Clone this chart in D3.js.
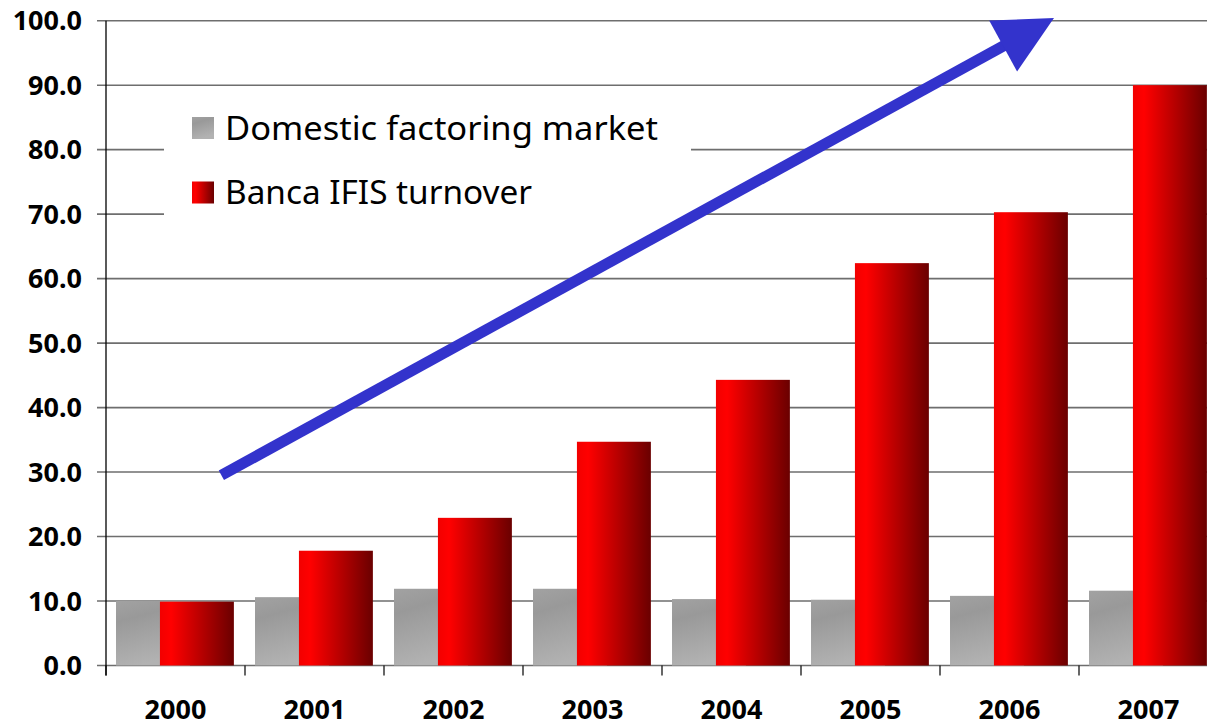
<!DOCTYPE html>
<html><head><meta charset="utf-8">
<script src="https://cdn.jsdelivr.net/npm/d3@7"></script>
<style>
html,body{margin:0;padding:0;background:#fff;overflow:hidden;}
svg{display:block;}
</style></head>
<body>
<svg id="chart" width="1207" height="723"></svg>
<script>
const years = ["2000","2001","2002","2003","2004","2005","2006","2007"];
const domestic = [10.0, 10.6, 11.9, 11.9, 10.3, 10.2, 10.8, 11.6];
const ifis = [9.9, 17.8, 22.9, 34.7, 44.3, 62.4, 70.3, 90.0];
const yTicks = [0,10,20,30,40,50,60,70,80,90,100];
const seriesNames = ["Domestic factoring market", "Banca IFIS turnover"];
const arrowFrom = [0.83, 29.5]; // in (category index, value) space
const arrowTo = [6.82, 100.4];

const svg = d3.select("#chart");
const font = "'Noto Sans', 'DejaVu Sans', sans-serif";

const x = d3.scaleBand().domain(years).range([106, 1218]).paddingInner(0).paddingOuter(0);
const y = d3.scaleLinear().domain([0,100]).range([665.5, 20.7]);
const bw = x.bandwidth();
const barW = bw*0.532;
const offGrey = bw*0.072, offRed = bw*0.388;

const defs = svg.append("defs");
const gGrey = defs.append("linearGradient").attr("id","gGrey").attr("x1","0").attr("y1","0").attr("x2","0.3").attr("y2","1");
gGrey.append("stop").attr("offset","0").attr("stop-color","#a2a2a2");
gGrey.append("stop").attr("offset","0.3").attr("stop-color","#999999");
gGrey.append("stop").attr("offset","1").attr("stop-color","#b2b2b2");
const gRed = defs.append("linearGradient").attr("id","gRed").attr("x1","0").attr("y1","0").attr("x2","1").attr("y2","0");
gRed.append("stop").attr("offset","0").attr("stop-color","#f20000");
gRed.append("stop").attr("offset","0.15").attr("stop-color","#ff0000");
gRed.append("stop").attr("offset","1").attr("stop-color","#6a0000");

// gridlines
svg.append("g").selectAll("line").data(yTicks).join("line")
  .attr("x1", 97).attr("x2", 1218)
  .attr("y1", d=>y(d)).attr("y2", d=>y(d))
  .attr("stroke", "#6e6e6e").attr("stroke-width", 1.6);

// y labels
svg.append("g").selectAll("text").data(yTicks).join("text")
  .attr("x", 82).attr("y", d=>y(d)).attr("dy","0.36em")
  .attr("text-anchor","end")
  .attr("font-family", font).attr("font-weight","bold").attr("font-size", 27)
  .attr("fill","#000")
  .text(d=>d.toFixed(1));

// x ticks
svg.append("g").selectAll("line").data(years).join("line")
  .attr("x1", d=>x(d)).attr("x2", d=>x(d))
  .attr("y1", y(0)).attr("y2", y(0)+10)
  .attr("stroke","#000").attr("stroke-width",1.2);

// x labels
svg.append("g").selectAll("text").data(years).join("text")
  .attr("x", d=>x(d)+bw/2).attr("y", 719)
  .attr("text-anchor","middle")
  .attr("font-family", font).attr("font-weight","bold").attr("font-size", 27)
  .attr("fill","#000")
  .text(d=>d);

// bars
svg.append("g").selectAll("rect").data(years).join("rect")
  .attr("x", d=>x(d)+offGrey).attr("width", barW)
  .attr("y", (d,i)=>y(domestic[i])).attr("height", (d,i)=>y(0)-y(domestic[i]))
  .attr("fill","url(#gGrey)");
svg.append("g").selectAll("rect").data(years).join("rect")
  .attr("x", d=>x(d)+offRed).attr("width", barW)
  .attr("y", (d,i)=>y(ifis[i])).attr("height", (d,i)=>y(0)-y(ifis[i]))
  .attr("fill","url(#gRed)");

// y axis line
svg.append("line").attr("x1",106).attr("x2",106).attr("y1",y(100)).attr("y2",y(0)+10)
  .attr("stroke","#000").attr("stroke-width",1.3);

// legend
svg.append("rect").attr("x",164).attr("y",96).attr("width",527).attr("height",128).attr("fill","#fff");
const lg = svg.append("g");
const legY = [128, 192.5];
const legLen = [433, 307];
lg.selectAll("rect").data(seriesNames).join("rect")
  .attr("x",192).attr("y",(d,i)=>legY[i]-11).attr("width",22).attr("height",22)
  .attr("fill",(d,i)=> i===0 ? "url(#gGrey)" : "url(#gRed)");
lg.selectAll("text").data(seriesNames).join("text")
  .attr("x",225).attr("y",(d,i)=>legY[i]).attr("dy","0.36em")
  .attr("font-family", font).attr("font-size", 32.5).attr("fill","#000")
  .attr("textLength",(d,i)=>legLen[i]).attr("lengthAdjust","spacingAndGlyphs")
  .text(d=>d);

// arrow
const ax0 = x(years[0]) + arrowFrom[0]*bw, ay0 = y(arrowFrom[1]);
const ax1 = x(years[0]) + arrowTo[0]*bw, ay1 = y(arrowTo[1]);
const ang = Math.atan2(ay1-ay0, ax1-ax0);
const headLen = 58, headHalf = 29;
const bx = ax1 - headLen*Math.cos(ang), by = ay1 - headLen*Math.sin(ang);
const px = -Math.sin(ang), py = Math.cos(ang);
svg.append("line").attr("x1",ax0).attr("y1",ay0).attr("x2",bx+2*Math.cos(ang)).attr("y2",by+2*Math.sin(ang))
  .attr("stroke","#3333cc").attr("stroke-width",11);
svg.append("path")
  .attr("d", d3.line()([[ax1,ay1],[bx+px*headHalf,by+py*headHalf],[bx-px*headHalf,by-py*headHalf]]) + "Z")
  .attr("fill","#3333cc");
</script>
</body></html>
